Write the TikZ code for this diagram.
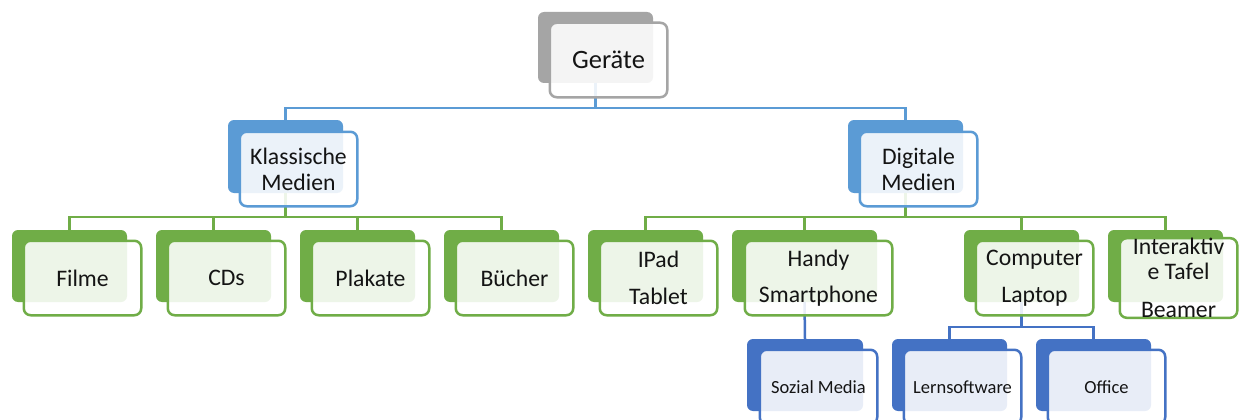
\documentclass[tikz,border=0pt]{standalone}
\usepackage{fontspec}
\setmainfont{Carlito}
\definecolor{cgray}{HTML}{A5A5A5}
\definecolor{csky}{HTML}{5B9BD5}
\definecolor{cgreen}{HTML}{70AD47}
\definecolor{cblue}{HTML}{4472C4}
\tikzset{
  backcard/.style={draw=none,fill=#1,rounded corners=6pt,inner sep=0pt,outer sep=0pt},
  frontcard/.style={draw=#1,line width=2.5pt,fill=white,fill opacity=0.88,text opacity=1,
    rounded corners=7pt,inner sep=0pt,outer sep=0pt,align=center,text=black!92,
    font=\fontsize{23.7}{26}\selectfont},
  roottext/.style={font=\fontsize{26.5}{30}\selectfont},
  smalltext/.style={font=\fontsize{18.5}{22}\selectfont},
  link/.style={draw=#1,line width=2.5pt},
}
% name, x1, y1, x2, y2, colour
\newcommand{\backcard}[6]{%
  \node[backcard=#6,minimum width={(#4-#2)*1pt},minimum height={(#5-#3)*1pt}]
    (#1) at ({(#2+#4)/2},{(#3+#5)/2}) {};}
% name, x1, y1, x2, y2, colour, options, text
\newcommand{\frontcard}[8]{%
  \node[frontcard=#6,minimum width={(#4-#2-1.5)*1pt},minimum height={(#5-#3-1.5)*1pt},#7]
    (#1) at ({(#2+#4)/2},{(#3+#5)/2}) {#8};}
\begin{document}
\begin{tikzpicture}[x=1pt,y=-1pt]
\clip (0,0) rectangle (1240,420);
\fill[white] (0,0) rectangle (1240,420);
% rear cards
\backcard{rootB}{538}{12}{653}{83}{cgray}
\backcard{klassB}{228}{120}{343}{193}{csky}
\backcard{digiB}{848}{120}{963}{193}{csky}
\backcard{filmeB}{12}{230}{127}{302}{cgreen}
\backcard{cdsB}{156}{230}{271}{302}{cgreen}
\backcard{plakB}{300}{230}{415}{302}{cgreen}
\backcard{buchB}{444}{230}{559}{302}{cgreen}
\backcard{ipadB}{588}{230}{703}{302}{cgreen}
\backcard{handyB}{732}{230}{877}{302}{cgreen}
\backcard{compB}{964}{230}{1079}{302}{cgreen}
\backcard{tafelB}{1108}{230}{1223}{302}{cgreen}
\backcard{sozB}{747}{339}{863}{411}{cblue}
\backcard{lernB}{892}{339}{1007}{411}{cblue}
\backcard{offB}{1036}{339}{1151}{411}{cblue}
% connectors
\foreach \c in {klassB,digiB}
  \draw[link=csky] (rootB.south) -- ++(0,25) -| (\c.north);
\foreach \c in {filmeB,cdsB,plakB,buchB}
  \draw[link=cgreen] (klassB.south) -- ++(0,24) -| (\c.north);
\foreach \c in {ipadB,handyB,compB,tafelB}
  \draw[link=cgreen] (digiB.south) -- ++(0,24) -| (\c.north);
\draw[link=cblue] (handyB.south) -- (sozB.north);
\foreach \c in {lernB,offB}
  \draw[link=cblue] (compB.south) -- ++(0,25) -| (\c.north);
% front cards
\frontcard{rootF}{549}{22}{668}{98}{cgray}{roottext}{Geräte}
\frontcard{klassF}{239}{131}{358}{207}{csky}{}{Klassische\\[0pt]Medien}
\frontcard{digiF}{859}{131}{978}{207}{csky}{}{Digitale\\[0pt]Medien}
\frontcard{filmeF}{23}{240}{142}{316}{cgreen}{}{Filme}
\frontcard{cdsF}{167}{240}{286}{316}{cgreen}{}{CDs}
\frontcard{plakF}{311}{240}{430}{316}{cgreen}{}{Plakate}
\frontcard{buchF}{455}{240}{574}{316}{cgreen}{}{Bücher}
\frontcard{ipadF}{599}{240}{718}{316}{cgreen}{}{IPad\\[10.5pt]Tablet}
\frontcard{handyF}{744}{240}{893}{316}{cgreen}{}{Handy\\[10.5pt]Smartphone}
\frontcard{compF}{975}{240}{1094}{316}{cgreen}{}{Computer\\[10.5pt]Laptop}
\frontcard{tafelF}{1119}{240}{1238}{316}{cgreen}{}{Interaktiv\\[-1pt]e Tafel\\[12pt]Beamer}
\frontcard{sozF}{759}{349}{878}{425}{cblue}{smalltext}{Sozial Media}
\frontcard{lernF}{903}{349}{1022}{425}{cblue}{smalltext}{Lernsoftware}
\frontcard{offF}{1047}{349}{1166}{425}{cblue}{smalltext}{Office}
\end{tikzpicture}
\end{document}
